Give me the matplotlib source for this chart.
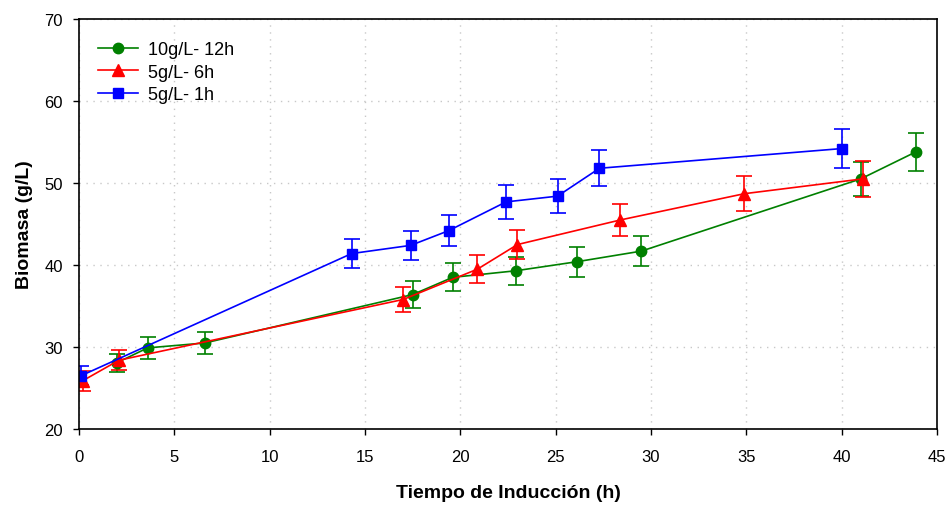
import matplotlib.pyplot as plt

plt.rcParams['font.family'] = ['Liberation Sans', 'DejaVu Sans']

# 10g/L - 12h
t_green = [2.0, 3.6, 6.6, 17.5, 19.6, 22.9, 26.1, 29.5, 41.0, 43.9]
b_green = [28.1, 29.9, 30.5, 36.4, 38.5, 39.3, 40.4, 41.7, 50.5, 53.8]
e_green = [1.1, 1.3, 1.3, 1.6, 1.7, 1.7, 1.8, 1.8, 2.1, 2.3]

# 5g/L - 6h
t_red = [0.2, 2.1, 17.0, 20.9, 23.0, 28.4, 34.9, 41.1]
b_red = [25.9, 28.4, 35.8, 39.5, 42.5, 45.5, 48.7, 50.5]
e_red = [1.2, 1.2, 1.55, 1.7, 1.8, 1.9, 2.1, 2.15]

# 5g/L - 1h
t_blue = [0.1, 14.3, 17.4, 19.4, 22.4, 25.1, 27.3, 40.0]
b_blue = [26.5, 41.4, 42.4, 44.2, 47.7, 48.4, 51.8, 54.2]
e_blue = [1.15, 1.8, 1.8, 1.9, 2.05, 2.1, 2.2, 2.35]

labels = ['10g/L- 12h', '5g/L- 6h', '5g/L- 1h']

fig = plt.figure(figsize=(9.48, 5.06), dpi=100)
ax = fig.add_axes([0.0833, 0.150, 0.905, 0.8105])

series = [
    (t_green, b_green, e_green, '#008000', 'o', 7.5),
    (t_red, b_red, e_red, '#ff0000', '^', 8.5),
    (t_blue, b_blue, e_blue, '#0000ff', 's', 7.5),
]
handles = []
for (t, b, e, c, m, ms), lab in zip(series, labels):
    cont = ax.errorbar(t, b, yerr=e, color=c, marker=m, markersize=ms,
                       linewidth=1.2, elinewidth=1.2, capsize=6,
                       capthick=1.2, label=lab)
    handles.append(cont.lines[0])

ax.set_xlim(0, 45)
ax.set_ylim(20, 70)
ax.set_xticks(range(0, 46, 5))
ax.set_yticks(range(20, 71, 10))
ax.tick_params(labelsize=12, direction='out', length=4.5, width=1)
ax.tick_params(axis='x', pad=10)
ax.tick_params(axis='y', pad=7)
ax.grid(True, linestyle=(0, (1, 4)), color='#c8c8c8', linewidth=1)
for s in ax.spines.values():
    s.set_linewidth(1.2)

ax.set_xlabel('Tiempo de Inducción (h)', fontsize=14, fontweight='bold',
              labelpad=14)
ax.set_ylabel('Biomasa (g/L)', fontsize=14, fontweight='bold', labelpad=8)

ax.legend(handles, labels, loc='upper left', frameon=False, fontsize=13,
          bbox_to_anchor=(0.003, 0.985), handlelength=2.2,
          handletextpad=0.6, labelspacing=0.3)

fig.savefig('out.png', dpi=100)
